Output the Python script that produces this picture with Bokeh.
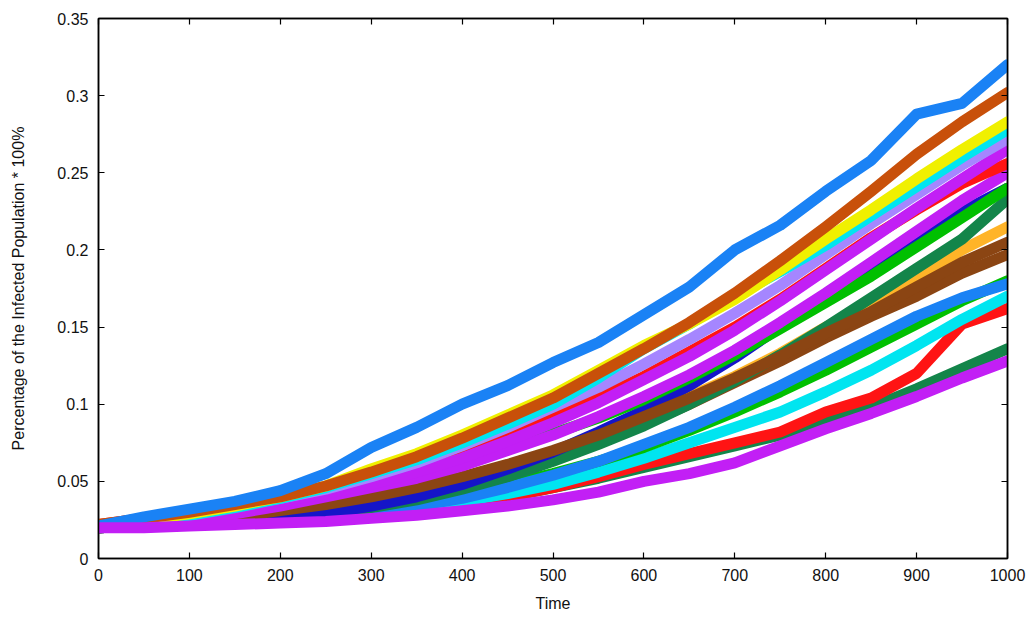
from bokeh.plotting import figure
from bokeh.models import Range1d, LinearAxis, FixedTicker, CustomJSTickFormatter, ColumnDataSource
from bokeh.embed import file_html
from bokeh.resources import INLINE

time = [0, 50, 100, 150, 200, 250, 300, 350, 400, 450, 500,
        550, 600, 650, 700, 750, 800, 850, 900, 950, 1000]

x_ticks = [0, 100, 200, 300, 400, 500, 600, 700, 800, 900, 1000]
y_ticks = [0, 0.05, 0.1, 0.15, 0.2, 0.25, 0.3, 0.35]

run_blue = [0.021,0.027,0.032,0.037,0.044,0.055,0.072,0.085,0.100,0.112,0.127,0.140,0.158,0.176,0.200,0.216,0.238,0.258,0.288,0.295,0.320]
run_rust = [0.022,0.026,0.030,0.035,0.040,0.047,0.056,0.066,0.078,0.091,0.104,0.120,0.136,0.153,0.172,0.193,0.215,0.238,0.262,0.283,0.302]
run_yellow = [0.021,0.025,0.029,0.034,0.040,0.047,0.058,0.068,0.080,0.093,0.106,0.122,0.138,0.152,0.168,0.187,0.207,0.226,0.246,0.265,0.283]
run_cyan = [0.020,0.024,0.028,0.033,0.039,0.046,0.055,0.064,0.075,0.087,0.100,0.117,0.136,0.152,0.170,0.186,0.203,0.222,0.241,0.260,0.278]
run_lavender = [0.021,0.025,0.029,0.034,0.039,0.045,0.053,0.062,0.073,0.085,0.098,0.111,0.126,0.142,0.159,0.177,0.197,0.217,0.236,0.255,0.272]
run_purple = [0.020,0.024,0.028,0.032,0.037,0.042,0.048,0.056,0.065,0.076,0.088,0.101,0.116,0.131,0.148,0.167,0.187,0.207,0.227,0.246,0.265]
run_red = [0.022,0.026,0.030,0.034,0.039,0.045,0.052,0.060,0.069,0.080,0.092,0.104,0.118,0.134,0.150,0.168,0.188,0.208,0.226,0.243,0.256]
run_purple2 = [0.020,0.022,0.025,0.029,0.034,0.040,0.046,0.052,0.060,0.070,0.080,0.092,0.105,0.119,0.135,0.153,0.172,0.192,0.212,0.232,0.250]
run_darkblue = [0.020,0.021,0.022,0.024,0.026,0.029,0.034,0.040,0.048,0.058,0.069,0.082,0.096,0.112,0.130,0.150,0.170,0.190,0.208,0.225,0.240]
run_green = [0.021,0.026,0.031,0.035,0.040,0.045,0.051,0.057,0.064,0.072,0.081,0.091,0.103,0.117,0.132,0.149,0.166,0.183,0.202,0.221,0.240]
run_darkgreen = [0.020,0.021,0.022,0.024,0.026,0.029,0.033,0.038,0.045,0.053,0.063,0.074,0.086,0.100,0.115,0.132,0.150,0.169,0.188,0.207,0.233]
run_orange = [0.020,0.021,0.022,0.024,0.027,0.031,0.036,0.042,0.049,0.058,0.068,0.079,0.091,0.105,0.118,0.133,0.150,0.165,0.182,0.200,0.215]
run_brown = [0.020,0.021,0.023,0.026,0.029,0.033,0.038,0.043,0.050,0.058,0.066,0.076,0.087,0.100,0.114,0.128,0.143,0.157,0.170,0.185,0.197]
run_brown2 = [0.020,0.022,0.024,0.027,0.031,0.035,0.040,0.046,0.053,0.061,0.070,0.080,0.092,0.104,0.117,0.131,0.146,0.160,0.176,0.192,0.205]
run_blue2 = [0.020,0.021,0.022,0.023,0.025,0.027,0.030,0.034,0.039,0.046,0.054,0.063,0.074,0.085,0.098,0.112,0.127,0.142,0.157,0.169,0.178]
run_green2 = [0.020,0.021,0.022,0.024,0.026,0.029,0.032,0.036,0.041,0.048,0.055,0.063,0.072,0.083,0.095,0.108,0.122,0.137,0.152,0.167,0.180]
run_cyan2 = [0.020,0.021,0.022,0.023,0.025,0.027,0.030,0.033,0.037,0.042,0.048,0.056,0.065,0.075,0.085,0.095,0.108,0.122,0.138,0.155,0.170]
run_red2 = [0.020,0.021,0.022,0.023,0.024,0.026,0.028,0.031,0.035,0.040,0.046,0.053,0.061,0.068,0.075,0.082,0.095,0.104,0.120,0.152,0.162]
run_darkgreen2 = [0.020,0.021,0.022,0.023,0.024,0.026,0.028,0.031,0.035,0.040,0.046,0.052,0.059,0.066,0.073,0.080,0.088,0.098,0.110,0.123,0.136]
run_purple3 = [0.020,0.020,0.021,0.022,0.023,0.024,0.026,0.028,0.031,0.034,0.038,0.043,0.050,0.055,0.062,0.073,0.084,0.094,0.105,0.117,0.128]

series = [
    (run_darkgreen2, "#13854a"),
    (run_red2, "#ff1414"),
    (run_cyan2, "#00e5f0"),
    (run_green2, "#00c000"),
    (run_blue2, "#1a82f5"),
    (run_brown, "#8b4513"),
    (run_orange, "#ffb428"),
    (run_darkgreen, "#13854a"),
    (run_darkblue, "#1515c8"),
    (run_brown2, "#8b4513"),
    (run_green, "#00c000"),
    (run_purple2, "#c21ff5"),
    (run_red, "#ff1414"),
    (run_purple, "#c21ff5"),
    (run_lavender, "#a586ff"),
    (run_cyan, "#00e5f0"),
    (run_yellow, "#f0f000"),
    (run_rust, "#c8500a"),
    (run_blue, "#1a82f5"),
    (run_purple3, "#c21ff5"),
]

FONT = "Liberation Sans"

p = figure(width=1029, height=621, output_backend="svg", toolbar_location=None,
           x_range=Range1d(0, 1000), y_range=Range1d(0, 0.35),
           min_border_left=98, min_border_right=22, min_border_top=18, min_border_bottom=63)
p.grid.visible = False
p.outline_line_color = "black"
p.outline_line_width = 1.5

for ys, col in series:
    src = ColumnDataSource(dict(t=time, v=ys))
    p.line("t", "v", source=src, line_color=col, line_width=11, line_join="round", line_cap="round")

fmt = CustomJSTickFormatter(code="return String(Math.round(tick*100)/100);")
blank = CustomJSTickFormatter(code="return '';")

for ax in p.xaxis:
    ax.ticker = FixedTicker(ticks=x_ticks)
    ax.axis_label = "Time"
for ax in p.yaxis:
    ax.ticker = FixedTicker(ticks=y_ticks)
    ax.formatter = fmt
    ax.axis_label = "Percentage of the Infected Population * 100%"

for ax in list(p.xaxis) + list(p.yaxis):
    ax.major_tick_in = 6
    ax.major_tick_out = 0
    ax.minor_tick_in = 0
    ax.minor_tick_out = 0
    ax.axis_line_color = "black"
    ax.axis_line_width = 1.5
    ax.major_tick_line_color = "black"
    ax.major_tick_line_width = 1.2
    ax.major_label_text_font = FONT
    ax.major_label_text_font_size = "16px"
    ax.major_label_text_color = "#111111"
    ax.axis_label_text_font = FONT
    ax.axis_label_text_font_style = "normal"
    ax.axis_label_text_color = "#111111"

p.xaxis.axis_label_text_font_size = "16px"
p.xaxis.axis_label_standoff = 11
p.yaxis.axis_label_text_font_size = "16px"
p.yaxis.axis_label_standoff = 27
p.xaxis.major_label_standoff = 10
p.yaxis.major_label_standoff = 10

top = LinearAxis(ticker=FixedTicker(ticks=x_ticks), formatter=blank, major_label_standoff=0,
                 major_tick_in=6, major_tick_out=0, minor_tick_in=0, minor_tick_out=0,
                 axis_line_color="black", axis_line_width=1.5, major_tick_line_width=1.2)
right = LinearAxis(ticker=FixedTicker(ticks=y_ticks), formatter=blank, major_label_standoff=0,
                   major_tick_in=6, major_tick_out=0, minor_tick_in=0, minor_tick_out=0,
                   axis_line_color="black", axis_line_width=1.5, major_tick_line_width=1.2)
p.add_layout(top, "above")
p.add_layout(right, "right")

open("out.html", "w").write(file_html(p, INLINE))
